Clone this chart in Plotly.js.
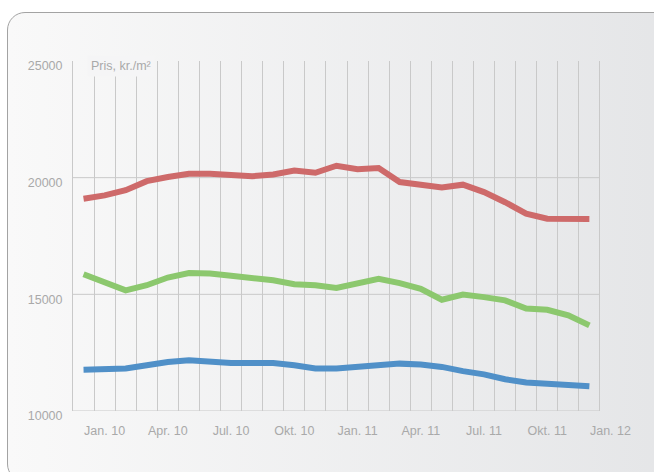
<!DOCTYPE html>
<html>
<head>
<meta charset="utf-8">
<script src="https://cdn.plot.ly/plotly-3.0.1.min.js"></script>
<style>
  html, body { margin: 0; padding: 0; background: #ffffff; overflow: hidden; }
  #wrap { position: relative; width: 654px; height: 472px; overflow: hidden; }
  #frame { position: absolute; left: 7px; top: 12px; width: 680px; height: 470px;
    border: 1px solid #a3a3a3; border-radius: 18px; box-sizing: border-box;
    background: linear-gradient(to right, #f9f9f9 0%, #e4e5e7 100%); }
  #chart { position: absolute; left: 0; top: 0; width: 654px; height: 472px; }
</style>
</head>
<body>
<div id="wrap">
  <div id="frame"></div>
  <div id="chart"></div>
</div>
<script>
const months = ['Dec. 09','Jan. 10','Feb. 10','Mar. 10','Apr. 10','Maj. 10','Jun. 10','Jul. 10','Aug. 10','Sep. 10','Okt. 10','Nov. 10','Dec. 10',
                'Jan. 11','Feb. 11','Mar. 11','Apr. 11','Maj. 11','Jun. 11','Jul. 11','Aug. 11','Sep. 11','Okt. 11','Nov. 11','Dec. 11'];
const tickPositions = [1, 4, 7, 10, 13, 16, 19, 22, 25];
const tickLabels = ['Jan. 10','Apr. 10','Jul. 10','Okt. 10','Jan. 11','Apr. 11','Jul. 11','Okt. 11','Jan. 12'];
const seriesRed   = [19100,19240,19460,19850,20030,20170,20170,20140,20060,20140,20310,20210,20510,20360,20410,19810,19670,19580,19700,19380,18950,18460,18240,18240,18230];
const seriesGreen = [15860,15510,15170,15390,15720,15910,15890,15800,15720,15600,15430,15390,15270,15470,15670,15480,15240,14770,14990,14880,14740,14390,14340,14100,13670];
const seriesBlue  = [11770,11770,11820,11960,12100,12170,12100,12060,12060,12060,11960,11820,11820,11900,11990,12030,11990,11890,11710,11570,11360,11220,11170,11100,11060];
const yTicks = [10000, 15000, 20000, 25000];
const yLabel = 'Pris, kr./m²';

const xIdx = months.map((m, i) => i);
const gridVals = months.map((m, i) => i - 0.5).concat([months.length - 0.5]);
const xEnd = months.length - 0.5;

function line(y, color, name) {
  return { x: xIdx, y: y, text: months, name: name, type: 'scatter', mode: 'lines',
    line: { color: color, width: 6, shape: 'linear' }, hoverinfo: 'text+y' };
}

const data = [
  line(seriesRed, '#ce6a6a', 'Serie 1'),
  line(seriesGreen, '#8cc86e', 'Serie 2'),
  line(seriesBlue, '#5090c8', 'Serie 3')
];

const gridColor = '#c9c9c9';
const shapes = [15000, 20000, 10000].map(v => ({
  type: 'line', xref: 'x', yref: 'y', x0: -0.5, x1: xEnd, y0: v, y1: v,
  line: { color: gridColor, width: 1 }, layer: 'below'
}));

const layout = {
  width: 654, height: 472,
  margin: { l: 73, r: 33, t: 61, b: 61, pad: 0 },
  paper_bgcolor: 'rgba(0,0,0,0)',
  plot_bgcolor: 'rgba(0,0,0,0)',
  showlegend: false,
  font: { family: 'Liberation Sans, Arial, sans-serif', size: 12.5, color: '#a9a9a9' },
  xaxis: {
    range: [-0.5, months.length + 0.5],
    tickmode: 'array', tickvals: tickPositions, ticktext: tickLabels,
    showgrid: false, zeroline: false, showline: false, ticks: '',
    ticklabelstandoff: 10,
    minor: { tickmode: 'array', tickvals: gridVals, showgrid: true, gridcolor: gridColor, gridwidth: 1, ticks: '' },
    fixedrange: true
  },
  yaxis: {
    range: [10000, 25000],
    tickmode: 'array', tickvals: yTicks, ticktext: yTicks.map(String),
    showgrid: false, zeroline: false, showline: true, linecolor: gridColor, linewidth: 1,
    ticks: '', ticklabelstandoff: 7, ticklabelshift: 5,
    fixedrange: true
  },
  shapes: shapes,
  annotations: [{
    text: yLabel, xref: 'paper', yref: 'paper', x: 0, y: 1,
    xanchor: 'left', yanchor: 'middle', xshift: 14, yshift: -5,
    showarrow: false, bgcolor: '#f5f5f6', borderpad: 3,
    font: { size: 12.5, color: '#a9a9a9' }
  }]
};

Plotly.newPlot('chart', data, layout, { displayModeBar: false, staticPlot: true });
</script>
</body>
</html>
